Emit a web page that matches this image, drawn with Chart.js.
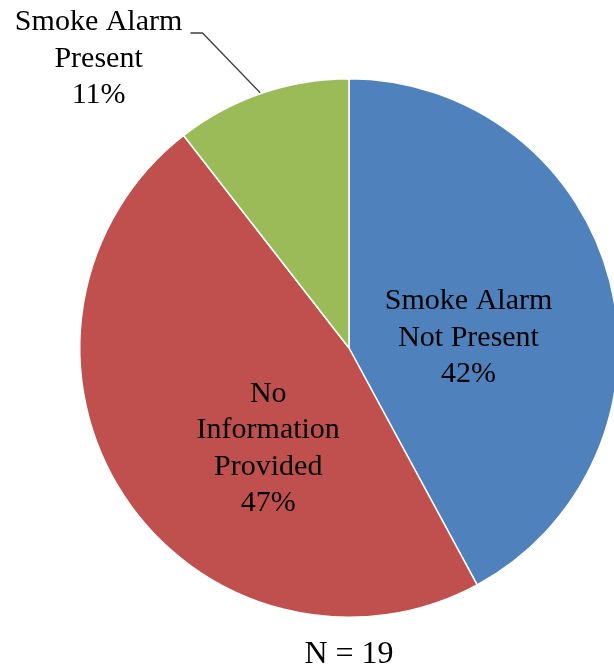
<!DOCTYPE html>
<html>
<head>
<meta charset="utf-8">
<script src="https://cdn.jsdelivr.net/npm/chart.js@4.4.0/dist/chart.umd.min.js"></script>
<style>
  html, body { margin: 0; padding: 0; background: #fff; overflow: hidden; }
  #wrap { position: relative; width: 640px; height: 672px; }
</style>
</head>
<body>
<div id="wrap"><canvas id="pieChart" width="640" height="672"></canvas></div>
<script>
// Data
const categories = [
  ["Smoke Alarm", "Not Present"],
  ["No", "Information", "Provided"],
  ["Smoke Alarm", "Present"],
];
const counts = [8, 9, 2];
const sliceColors = ["#4F81BD", "#C0504D", "#9BBB59"];
const footnote = "N = 19";

const total = counts.reduce((a, b) => a + b, 0);
const percents = counts.map((c) => Math.round((c / total) * 100) + "%");

// label placement, as fraction of radius from pie centre
const labelSpots = [
  { dx: 0.444, dy: -0.037 },
  { dx: -0.3, dy: 0.374 },
  { dx: -0.93, dy: -1.074, leader: [[-0.589, -1.17], [-0.544, -1.17], [-0.33, -0.948]] },
];

const labelPlugin = {
  id: "pieLabels",
  afterDatasetsDraw(chart) {
    const ctx = chart.ctx;
    const arcs = chart.getDatasetMeta(0).data;
    ctx.save();
    ctx.font = "30px 'Liberation Serif', 'Times New Roman', serif";
    ctx.fillStyle = "#000";
    ctx.textAlign = "center";
    ctx.textBaseline = "middle";
    const lineH = 36.5;
    arcs.forEach((arc, i) => {
      const r = arc.outerRadius;
      const spot = labelSpots[i];
      const cx = arc.x + spot.dx * r;
      const cy = arc.y + spot.dy * r;
      const lines = categories[i].concat([percents[i]]);
      const top = cy - ((lines.length - 1) * lineH) / 2;
      lines.forEach((t, k) => ctx.fillText(t, cx, top + k * lineH));
      if (spot.leader) {
        ctx.beginPath();
        ctx.strokeStyle = "#404040";
        ctx.lineWidth = 1.3;
        spot.leader.forEach(([lx, ly], k) => {
          const px = arc.x + lx * r;
          const py = arc.y + ly * r;
          if (k === 0) ctx.moveTo(px, py);
          else ctx.lineTo(px, py);
        });
        ctx.stroke();
      }
    });
    // N = 19 under the pie
    const a0 = arcs[0];
    ctx.font = "32px 'Liberation Serif', 'Times New Roman', serif";
    ctx.fillText(footnote, a0.x, a0.y + a0.outerRadius + 37);
    ctx.restore();
  },
};

const ctx = document.getElementById("pieChart").getContext("2d");
new Chart(ctx, {
  type: "pie",
  data: {
    labels: categories.map((c) => c.join(" ")),
    datasets: [
      {
        data: counts,
        backgroundColor: sliceColors,
        borderColor: "#ffffff",
        borderWidth: 1.5,
      },
    ],
  },
  options: {
    responsive: false,
    animation: false,
    layout: { padding: { left: 79, right: 21, top: 78, bottom: 54 } },
    plugins: {
      legend: { display: false },
      tooltip: { enabled: false },
    },
  },
  plugins: [labelPlugin],
});
</script>
</body>
</html>
